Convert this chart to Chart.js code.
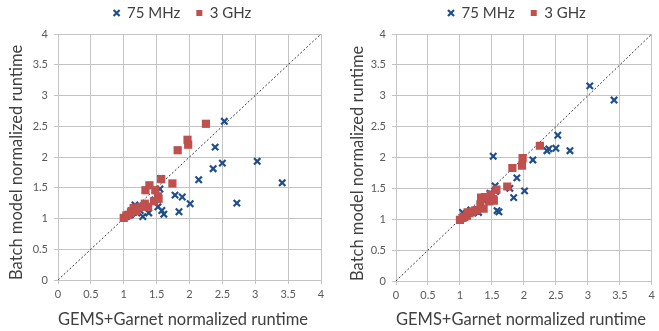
<!DOCTYPE html>
<html>
<head>
<meta charset="utf-8">
<script src="https://cdn.jsdelivr.net/npm/chart.js@4.4.1/dist/chart.umd.min.js"></script>
<style>
  body { margin: 0; background: #fff; }
  .panel { position: absolute; top: 0; }
</style>
</head>
<body>
<div class="panel" style="left:0"><canvas id="left" width="330" height="331"></canvas></div>
<div class="panel" style="left:330px"><canvas id="right" width="329" height="331"></canvas></div>
<script>
// GEMS+Garnet runtimes (x) are shared by both panels, model runtimes (y) differ
const mhzX      = [1.04, 1.10, 1.15, 1.17, 1.20, 1.25, 1.29, 1.38, 1.47, 1.52, 1.55, 1.56, 1.58, 1.61, 1.78, 1.84, 1.89, 2.01, 2.14, 2.36, 2.39, 2.50, 2.53, 2.72, 3.03, 3.41];
const mhzYLeft  = [1.03, 1.06, 1.10, 1.22, 1.09, 1.13, 1.03, 1.09, 1.30, 1.19, 1.48, 1.65, 1.13, 1.07, 1.38, 1.11, 1.35, 1.24, 1.63, 1.81, 2.16, 1.90, 2.58, 1.25, 1.93, 1.58];
const mhzYRight = [1.11, 1.08, 1.12, 1.15, 1.10, 1.13, 1.11, 1.30, 1.42, 2.02, 1.54, 1.45, 1.14, 1.12, 1.50, 1.35, 1.67, 1.46, 1.96, 2.11, 2.14, 2.15, 2.36, 2.11, 3.16, 2.93];

const ghzX      = [1.00, 1.04, 1.07, 1.11, 1.12, 1.15, 1.19, 1.23, 1.27, 1.32, 1.33, 1.37, 1.39, 1.46, 1.48, 1.52, 1.53, 1.57, 1.74, 1.82, 1.97, 1.98, 2.25];
const ghzYLeft  = [1.01, 1.05, 1.06, 1.10, 1.12, 1.17, 1.12, 1.18, 1.19, 1.24, 1.46, 1.19, 1.54, 1.28, 1.46, 1.36, 1.32, 1.64, 1.57, 2.11, 2.28, 2.20, 2.54];
const ghzYRight = [0.99, 1.02, 1.04, 1.06, 1.11, 1.10, 1.12, 1.14, 1.15, 1.24, 1.35, 1.17, 1.36, 1.29, 1.40, 1.33, 1.30, 1.48, 1.53, 1.83, 1.87, 1.99, 2.19];

const seriesNames = ['75 MHz', '3 GHz'];
const parityLine = [0, 4]; // y = x reference
const axisMin = 0, axisMax = 4, axisStep = 0.5;

const BLUE = '#1f4e8c';
const RED = '#c0504d';
const GRID = '#c4c4c4';
const TICK = '#595959';
const TEXT = '#404040';
const FONT = 'Lato';

const toPoints = (xs, ys) => xs.map((x, i) => ({ x: x, y: ys[i] }));

// nudge the legend so it sits where the original one was
const legendShift = {
  id: 'legendShift',
  afterLayout(chart, args, opts) {
    const lg = chart.legend;
    if (!lg) return;
    lg.left += opts.dx;
    lg.right += opts.dx;
    const pad = chart.options.plugins.legend.labels.padding;
    const size = chart.options.plugins.legend.labels.font.size;
    const h = lg.bottom - lg.top;
    lg.top = opts.textY - pad - size / 2;
    lg.bottom = lg.top + h;
  }
};

function makePanel(id, mhzY, ghzY, o) {
  return new Chart(document.getElementById(id), {
    type: 'scatter',
    data: {
      datasets: [
        {
          label: seriesNames[0], data: toPoints(mhzX, mhzY),
          pointStyle: 'crossRot', pointRadius: 4.5, pointHoverRadius: 4.5,
          borderColor: BLUE, backgroundColor: BLUE, borderWidth: 2.2, order: 2
        },
        {
          label: seriesNames[1], data: toPoints(ghzX, ghzY),
          pointStyle: 'rect', pointRadius: 5.8, pointHoverRadius: 5.8,
          borderColor: RED, backgroundColor: RED, borderWidth: 0, order: 1
        },
        {
          type: 'line', label: '', data: toPoints(parityLine, parityLine),
          borderColor: '#3a3a3a', borderWidth: 1, borderDash: [2, 2],
          pointRadius: 0, order: 3
        }
      ]
    },
    options: {
      responsive: false,
      animation: false,
      events: [],
      layout: { padding: { left: o.padLeft, right: o.padRight, top: 0, bottom: 0 } },
      plugins: {
        tooltip: { enabled: false },
        legend: {
          fullSize: false,
          maxHeight: 34,
          labels: {
            usePointStyle: true,
            boxWidth: 6, boxHeight: 6,
            padding: 16,
            color: TEXT,
            font: { family: FONT, size: 15 },
            filter: item => item.text !== '',
            sort: (a, b) => a.datasetIndex - b.datasetIndex
          }
        },
        legendShift: { dx: -7, textY: 13 }
      },
      scales: {
        x: {
          type: 'linear', min: axisMin, max: axisMax,
          ticks: {
            stepSize: axisStep, autoSkip: false, maxRotation: 0, padding: 4,
            color: TICK, font: { family: FONT, size: 11 },
            callback: v => String(v)
          },
          grid: { color: GRID, tickLength: 4 },
          border: { color: GRID },
          title: {
            display: true, text: 'GEMS+Garnet normalized runtime', align: 'start',
            color: TEXT, font: { family: FONT, size: 16.5 },
            padding: { top: 0, bottom: 1 }
          },
          afterFit: s => { s.height = o.xHeight; }
        },
        y: {
          type: 'linear', min: axisMin, max: axisMax,
          ticks: {
            stepSize: axisStep, autoSkip: false, padding: 6,
            color: TICK, font: { family: FONT, size: 11 },
            callback: v => String(v)
          },
          grid: { color: GRID, tickLength: 4 },
          border: { color: GRID },
          title: {
            display: true, text: 'Batch model normalized runtime', align: 'start',
            color: TEXT, font: { family: FONT, size: 16.5 },
            padding: { top: 7, bottom: 0 }
          },
          afterFit: s => { s.width = o.yWidth; }
        }
      }
    },
    plugins: [legendShift]
  });
}

makePanel('left', mhzYLeft, ghzYLeft, { padLeft: 0, padRight: 9, yWidth: 58, xHeight: 51 });
makePanel('right', mhzYRight, ghzYRight, { padLeft: 11, padRight: 3, yWidth: 55, xHeight: 50 });
</script>
</body>
</html>
